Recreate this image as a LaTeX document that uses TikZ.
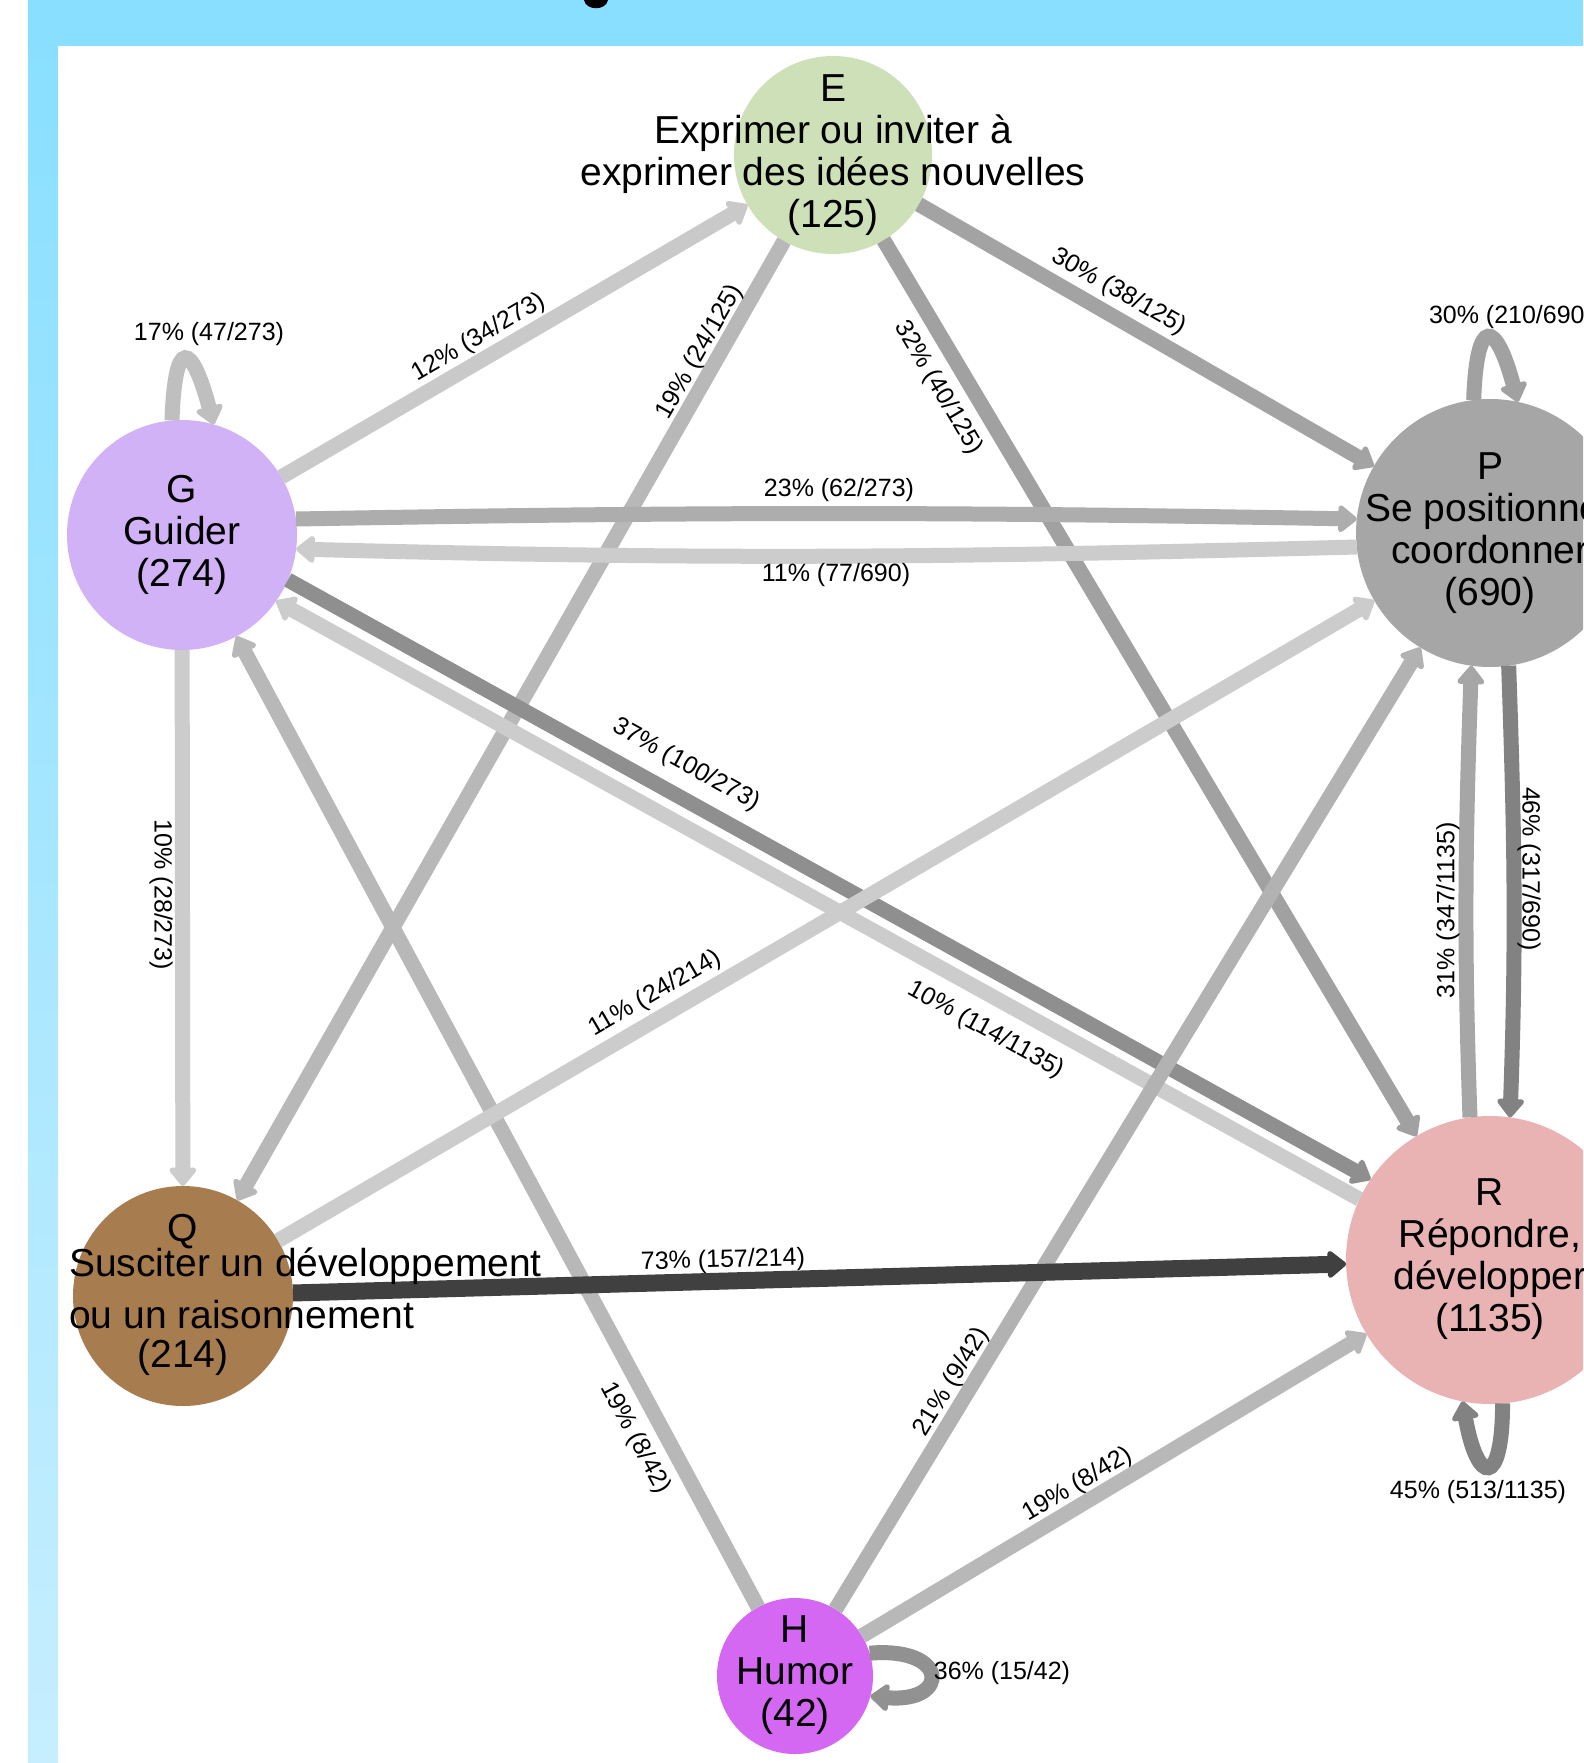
\documentclass[tikz,border=0pt]{standalone}
\usepackage{fontspec}
\setmainfont{Liberation Sans}
\usetikzlibrary{arrows.meta}
\definecolor{cBand}{HTML}{88DFFF}
\definecolor{cBandLow}{HTML}{C6EEFF}
\definecolor{cE}{HTML}{CDE0B8}
\definecolor{cG}{HTML}{D1B2F6}
\definecolor{cP}{HTML}{A6A6A6}
\definecolor{cR}{HTML}{E8B3B2}
\definecolor{cQ}{HTML}{A77C4F}
\definecolor{cH}{HTML}{D568F3}
\tikzset{
  tipshape/.tip={Triangle[round,length=20pt,width=31pt,line width=6pt]},
  edge/.style={line width=15pt, draw=#1, -tipshape},
  circ/.style={circle, fill=#1, inner sep=0pt, outer sep=0pt},
  ntext/.style={font=\fontsize{39}{42}\selectfont, align=center, inner sep=0pt},
  qtext/.style={font=\fontsize{39}{42}\selectfont, inner sep=0pt},
  lbl/.style={font=\fontsize{25}{30}\selectfont, inner sep=0pt},
}
\begin{document}
\begin{tikzpicture}[x=1pt,y=1pt]
\useasboundingbox (0,0) rectangle (1583,-1763);
\clip (0,0) rectangle (1583,-1763);
\fill[white] (0,0) rectangle (1583,-1763);
% frame bands
\shade[top color=cBand, bottom color=cBandLow] (28,0) rectangle (58,-1763);
\fill[cBand] (28,0) rectangle (1583,-46);
\fill[black] (584,0) .. controls (586,-11) and (606,-11) .. (608,0) -- cycle;

% nodes (circles)
\node[circ=cE, minimum size=198pt] (E) at (833,-155) {};
\node[circ=cG, minimum size=230pt] (G) at (182,-535) {};
\node[circ=cP, minimum size=268pt] (P) at (1490,-533) {};
\node[circ=cR, minimum size=288pt] (R) at (1490,-1260) {};
\node[circ=cQ, minimum size=220pt] (Q) at (183,-1296) {};
\node[circ=cH, minimum size=156pt] (H) at (795,-1676) {};

% edges
\draw[edge=black!25] (G.95) .. controls +(88:85) and +(105:85) .. (G.74);
\draw[edge=black!21] (G) -- (E);
\draw[edge=black!28] (E) -- (Q);
\draw[edge=black!37] (E) -- (R);
\draw[edge=black!36] (E) -- (P);
\draw[edge=black!37] (P.97) .. controls +(88:85) and +(105:85) .. (P.78);
\draw[edge=black!32] (G.8) .. controls +(1:415) and +(179:415) .. (P.174);
\draw[edge=black!20] (P.186) .. controls +(181.5:415) and +(-1.5:415) .. (G.-7);
\draw[edge=black!44] (G.-23) -- (R.146.2);
\draw[edge=black!20] (R.155.8) -- (G.-35);
\draw[edge=black!20] (G) -- (Q);
\draw[edge=black!28] (H) -- (G);
\draw[edge=black!20] (Q) -- (P);
\draw[edge=black!30] (H) -- (P);
\draw[edge=black!35] (R.98) .. controls +(92:176) and +(-92:176) .. (P.-98);
\draw[edge=black!49] (P.-82) .. controls +(-88:176) and +(88:176) .. (R.82);
\draw[edge=black!28] (H) -- (R);
\draw[edge=black!49] (R.-85) .. controls +(-90:85) and +(-80:85) .. (R.-101);
\draw[edge=black!43] (H.17) .. controls +(5:80) and +(-5:80) .. (H.-15);
\draw[edge=black!75, line width=17pt] (Q) -- (R);

% node texts
\node[ntext] (Et) at (833,-155) {E\\Exprimer ou inviter à\\exprimer des idées nouvelles\\(125)};
\node[ntext] (Gt) at (182,-535) {G\\Guider\\(274)};
\node[ntext] (Pt) at (1490,-533) {P\\Se positionner\\coordonner\\(690)};
\node[ntext] (Rt) at (1490,-1259) {R\\Répondre,\\développer\\(1135)};
\node[ntext] (Ht) at (795,-1675) {H\\Humor\\(42)};
\node[qtext, anchor=base] (Qt1) at (183,-1241) {Q};
\node[qtext, anchor=base west] (Qt2) at (69,-1276) {Susciter un développement};
\node[qtext, anchor=base west] (Qt3) at (69,-1328) {ou un raisonnement};
\node[qtext, anchor=base] (Qt4) at (183,-1367) {(214)};

% edge labels
\node[lbl] (lGG) at (209,-334) {17\% (47/273)};
\node[lbl, rotate=30.3] (lGE) at (479,-338) {12\% (34/273)};
\node[lbl, rotate=60.3] (lEQ) at (700,-352) {19\% (24/125)};
\node[lbl, rotate=-59.3] (lER) at (938,-388) {32\% (40/125)};
\node[lbl, rotate=-29.9] (lEP) at (1119,-292) {30\% (38/125)};
\node[lbl] (lPP) at (1511,-317) {30\% (210/690)};
\node[lbl] (lGP) at (839,-490) {23\% (62/273)};
\node[lbl] (lPG) at (836,-575) {11\% (77/690)};
\node[lbl, rotate=-29] (lGR) at (686,-765) {37\% (100/273)};
\node[lbl, rotate=-29] (lRG) at (986,-1030) {10\% (114/1135)};
\node[lbl, rotate=30.3] (lQP) at (655,-994) {11\% (24/214)};
\node[lbl, rotate=-90] (lGQ) at (161,-895) {10\% (28/273)};
\node[lbl, rotate=90] (lRP) at (1448,-910) {31\% (347/1135)};
\node[lbl, rotate=-90] (lPR) at (1529,-869) {46\% (317/690)};
\node[lbl, rotate=1.5] (lQR) at (723,-1261) {73\% (157/214)};
\node[lbl, rotate=-61.8] (lHG) at (635,-1438) {19\% (8/42)};
\node[lbl, rotate=58.7] (lHP) at (952,-1382) {21\% (9/42)};
\node[lbl, rotate=30.9] (lHR) at (1078,-1485) {19\% (8/42)};
\node[lbl] (lRR) at (1478,-1492) {45\% (513/1135)};
\node[lbl] (lHH) at (1002,-1673) {36\% (15/42)};
\end{tikzpicture}
\end{document}
